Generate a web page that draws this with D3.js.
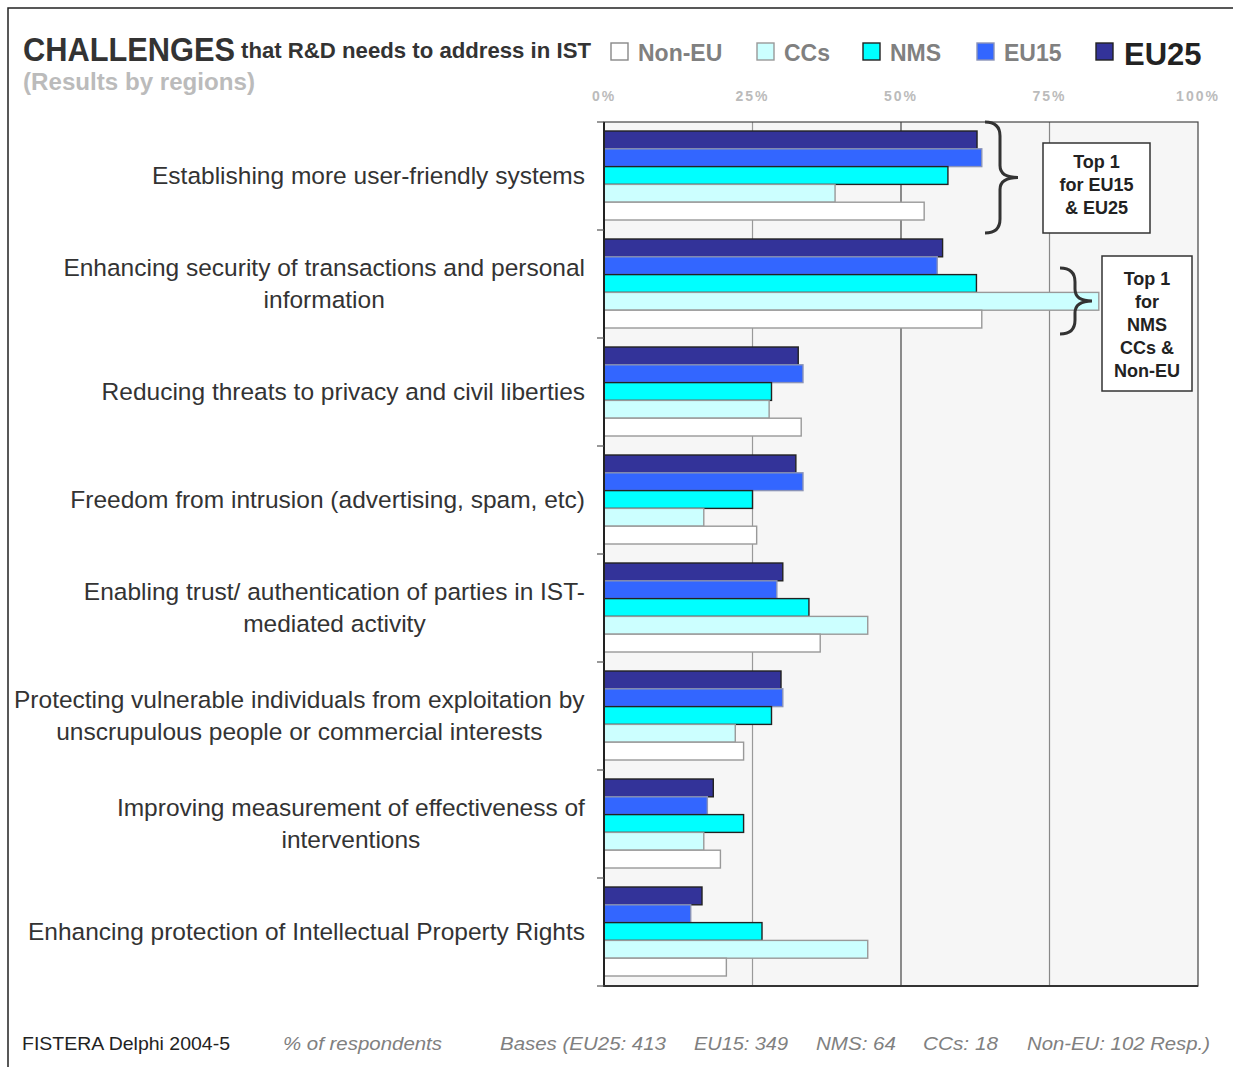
<!DOCTYPE html>
<html>
<head>
<meta charset="utf-8">
<script src="https://cdn.jsdelivr.net/npm/d3@7"></script>
<style>
  body { margin: 0; background: #fff; }
  svg { display: block; font-family: "Liberation Sans", Arial, sans-serif; }
</style>
</head>
<body>
<svg width="1233" height="1067"></svg>
<script>
var categories = [
  ["Establishing more user-friendly systems"],
  ["Enhancing security of transactions and personal", "information"],
  ["Reducing threats to privacy and civil liberties"],
  ["Freedom from intrusion (advertising, spam, etc)"],
  ["Enabling trust/ authentication of parties in IST-", "mediated activity"],
  ["Protecting vulnerable individuals from exploitation by", "unscrupulous people or commercial interests"],
  ["Improving measurement of effectiveness of", "interventions"],
  ["Enhancing protection of Intellectual Property Rights"]
];
var seriesNames = ["EU25", "EU15", "NMS", "CCs", "Non-EU"];
var eu25  = [62.8, 57.0, 32.7, 32.3, 30.1, 29.8, 18.4, 16.5];
var eu15  = [63.6, 56.1, 33.5, 33.5, 29.1, 30.1, 17.4, 14.6];
var nms   = [57.9, 62.7, 28.2, 25.0, 34.5, 28.2, 23.5, 26.6];
var ccs   = [38.9, 83.3, 27.8, 16.8, 44.4, 22.1, 16.8, 44.4];
var nonEu = [53.9, 63.6, 33.2, 25.7, 36.4, 23.5, 19.6, 20.6];
var tickValues = [0, 25, 50, 75, 100];
var legendOrder = ["Non-EU", "CCs", "NMS", "EU15", "EU25"];
var footerItems = ["% of respondents", "Bases (EU25: 413", "EU15: 349", "NMS: 64", "CCs: 18", "Non-EU: 102 Resp.)"];

var seriesValues = { "EU25": eu25, "EU15": eu15, "NMS": nms, "CCs": ccs, "Non-EU": nonEu };
var fills = { "EU25": "#333399", "EU15": "#3366ff", "NMS": "#00ffff", "CCs": "#ccffff", "Non-EU": "#ffffff" };
var strokes = { "EU25": "#222", "EU15": "#8a93b8", "NMS": "#222", "CCs": "#999", "Non-EU": "#999" };

var svg = d3.select("svg");

// outer frame
svg.append("rect").attr("x", 8).attr("y", 8).attr("width", 1240).attr("height", 1080)
  .attr("fill", "none").attr("stroke", "#222").attr("stroke-width", 1.5);

var x = d3.scaleLinear().domain([0, 100]).range([604, 1198]);
var y = d3.scaleBand().domain(d3.range(categories.length)).range([122, 986]);
var ySub = d3.scaleBand().domain(seriesNames).range([9, 98]);

// plot background
svg.append("rect").attr("x", x(0)).attr("y", 122).attr("width", x(100) - x(0)).attr("height", 864)
  .attr("fill", "#f6f6f6");

// grid lines
var gridColor = { 25: "#999", 50: "#444", 75: "#888" };
svg.append("g").selectAll("line").data([25, 50, 75]).enter().append("line")
  .attr("x1", d => x(d)).attr("x2", d => x(d)).attr("y1", 122).attr("y2", 986)
  .attr("stroke", d => gridColor[d]).attr("stroke-width", 1.2);

// bars
var groups = svg.append("g").selectAll("g").data(categories).enter().append("g")
  .attr("transform", (d, i) => "translate(0," + y(i) + ")");
groups.each(function(c, i) {
  d3.select(this).selectAll("rect").data(seriesNames).enter().append("rect")
    .attr("x", x(0))
    .attr("y", s => ySub(s))
    .attr("width", s => x(seriesValues[s][i]) - x(0))
    .attr("height", ySub.bandwidth())
    .attr("fill", s => fills[s])
    .attr("stroke", s => strokes[s])
    .attr("stroke-width", 1.4);
});

// plot frame
svg.append("rect").attr("x", x(0)).attr("y", 122).attr("width", x(100) - x(0)).attr("height", 864)
  .attr("fill", "none").attr("stroke", "#444").attr("stroke-width", 1.2);
svg.append("line").attr("x1", x(0)).attr("x2", x(0)).attr("y1", 122).attr("y2", 987)
  .attr("stroke", "#222").attr("stroke-width", 2);
svg.append("line").attr("x1", x(0)).attr("x2", x(100)).attr("y1", 986).attr("y2", 986)
  .attr("stroke", "#333").attr("stroke-width", 2);

// category ticks
svg.append("g").selectAll("line").data(d3.range(categories.length + 1)).enter().append("line")
  .attr("x1", 597).attr("x2", x(0))
  .attr("y1", i => 122 + i * y.step()).attr("y2", i => 122 + i * y.step())
  .attr("stroke", "#555").attr("stroke-width", 1.2);

// category labels, centred block whose right edge sits next to the axis
categories.forEach(function(lines, i) {
  var cy = y(i) + y.bandwidth() / 2;
  var t = svg.append("text").attr("text-anchor", "middle").attr("font-size", 24.5).attr("fill", "#333");
  var lh = 32;
  lines.forEach(function(l, k) {
    t.append("tspan").attr("x", 0).attr("y", cy + 8 + (k - (lines.length - 1) / 2) * lh).text(l);
  });
  var w = t.node().getBBox().width;
  t.attr("transform", "translate(" + (585 - w / 2) + ",0)");
});

// top axis labels
svg.append("g").selectAll("text").data(tickValues).enter().append("text")
  .attr("x", d => x(d)).attr("y", 101).attr("text-anchor", "middle")
  .attr("font-size", 14).attr("font-weight", "bold").attr("fill", "#bbb")
  .attr("letter-spacing", 2)
  .text(d => d + "%");

// title
svg.append("text").attr("x", 23).attr("y", 61).attr("font-size", 34).attr("font-weight", "bold")
  .attr("fill", "#333").attr("textLength", 212).attr("lengthAdjust", "spacingAndGlyphs").text("CHALLENGES");
svg.append("text").attr("x", 241).attr("y", 58).attr("font-size", 22).attr("font-weight", "bold")
  .attr("fill", "#333").attr("textLength", 350).attr("lengthAdjust", "spacingAndGlyphs")
  .text("that R&D needs to address in IST");
svg.append("text").attr("x", 23).attr("y", 90).attr("font-size", 23).attr("font-weight", "bold")
  .attr("fill", "#bbb").attr("textLength", 232).attr("lengthAdjust", "spacingAndGlyphs")
  .text("(Results by regions)");

// legend
var legendX = { "Non-EU": 611, "CCs": 757, "NMS": 863, "EU15": 977, "EU25": 1096 };
var legend = svg.append("g").selectAll("g").data(legendOrder).enter().append("g")
  .attr("transform", d => "translate(" + legendX[d] + ",43)");
legend.append("rect").attr("width", 17).attr("height", 17)
  .attr("fill", d => fills[d]).attr("stroke", d => d === "Non-EU" ? "#888" : strokes[d]).attr("stroke-width", 1.4);
legend.append("text").attr("x", d => d === "EU25" ? 28 : 27).attr("y", d => d === "EU25" ? 22 : 18)
  .attr("font-size", d => d === "EU25" ? 31 : 23).attr("font-weight", "bold")
  .attr("fill", d => d === "EU25" ? "#222" : "#808080")
  .text(d => d);

// braces
function brace(xl, top, bottom, tip) {
  var mid = (top + bottom) / 2;
  var xm = xl + 15;
  return "M" + xl + "," + top +
    " Q" + xm + "," + top + " " + xm + "," + (top + 14) +
    " L" + xm + "," + (mid - 12) +
    " Q" + xm + "," + mid + " " + tip + "," + mid +
    " Q" + xm + "," + mid + " " + xm + "," + (mid + 12) +
    " L" + xm + "," + (bottom - 14) +
    " Q" + xm + "," + bottom + " " + xl + "," + bottom;
}
svg.append("path").attr("d", brace(985, 122, 233, 1018))
  .attr("fill", "none").attr("stroke", "#333").attr("stroke-width", 3);
svg.append("path").attr("d", brace(1060, 268, 334, 1092))
  .attr("fill", "none").attr("stroke", "#333").attr("stroke-width", 3);

// annotation boxes
function noteBox(x0, y0, w, h, lines, firstY) {
  svg.append("rect").attr("x", x0).attr("y", y0).attr("width", w).attr("height", h)
    .attr("fill", "#fff").attr("stroke", "#333").attr("stroke-width", 1.5);
  var t = svg.append("text").attr("text-anchor", "middle").attr("font-size", 18)
    .attr("font-weight", "bold").attr("fill", "#222");
  lines.forEach(function(l, k) {
    t.append("tspan").attr("x", x0 + w / 2).attr("y", firstY + k * 23).text(l);
  });
}
noteBox(1043, 143, 107, 90, ["Top 1", "for EU15", "& EU25"], 168);
noteBox(1102, 256, 90, 135, ["Top 1", "for", "NMS", "CCs &", "Non-EU"], 285);

// footer
svg.append("text").attr("x", 22).attr("y", 1050).attr("font-size", 19).attr("fill", "#222")
  .attr("textLength", 208).attr("lengthAdjust", "spacingAndGlyphs").text("FISTERA Delphi 2004-5");
var footX = [283, 500, 694, 816, 923, 1027];
var footW = [159, 166, 94, 80, 75, 183];
svg.append("g").selectAll("text").data(footerItems).enter().append("text")
  .attr("x", (d, i) => footX[i]).attr("y", 1050)
  .attr("font-size", 19).attr("font-style", "italic").attr("fill", "#808080")
  .attr("textLength", (d, i) => footW[i]).attr("lengthAdjust", "spacingAndGlyphs")
  .text(d => d);
</script>
</body>
</html>
